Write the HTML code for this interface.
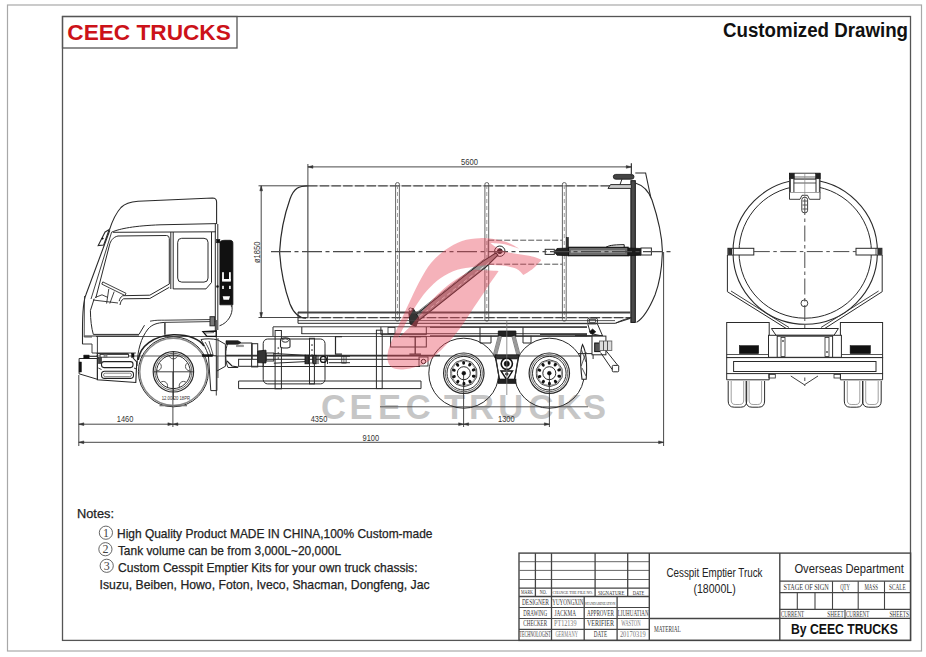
<!DOCTYPE html>
<html><head><meta charset="utf-8">
<style>
html,body{margin:0;padding:0;background:#fff;width:926px;height:657px;overflow:hidden}
svg{position:absolute;left:0;top:0;display:block}
text{font-family:"Liberation Sans",sans-serif}
.m{font-family:"Liberation Mono",monospace}
.sf{font-family:"Liberation Serif",serif}
</style></head><body>
<svg width="926" height="657" viewBox="0 0 926 657">
<rect x="7.5" y="5" width="914" height="646" rx="0" fill="none" stroke="#a8a8a8" stroke-width="1.2" />
<rect x="62.5" y="16.5" width="848" height="623.9" rx="0" fill="none" stroke="#555" stroke-width="1.3" />
<rect x="62.5" y="16.5" width="174.5" height="31.5" rx="0" fill="none" stroke="#555" stroke-width="1.3" />
<text x="67.3" y="39.9" font-size="22" fill="#cc1219" font-weight="bold" text-anchor="start" textLength="163.5" lengthAdjust="spacingAndGlyphs" >CEEC TRUCKS</text>
<text x="723" y="37.2" font-size="20" fill="#111" font-weight="bold" text-anchor="start" textLength="185" lengthAdjust="spacingAndGlyphs" >Customized Drawing</text>
<text x="77" y="517.7" font-size="12.8" fill="#222" font-weight="normal" text-anchor="start" textLength="37" lengthAdjust="spacingAndGlyphs" stroke="#222" stroke-width="0.25">Notes:</text>
<circle cx="105.9" cy="532.7" r="6.6" fill="none" stroke="#555" stroke-width="0.9" />
<text x="105.9" y="536.9000000000001" font-size="12" fill="#444" font-weight="normal" text-anchor="middle" class="sf" >1</text>
<text x="117" y="538.4000000000001" font-size="12.6" fill="#222" font-weight="normal" text-anchor="start" textLength="315.5" lengthAdjust="spacingAndGlyphs" stroke="#222" stroke-width="0.25">High Quality Product MADE IN CHINA,100% Custom-made</text>
<circle cx="105.4" cy="549.2" r="6.6" fill="none" stroke="#555" stroke-width="0.9" />
<text x="105.4" y="553.4000000000001" font-size="12" fill="#444" font-weight="normal" text-anchor="middle" class="sf" >2</text>
<text x="117.9" y="554.9000000000001" font-size="12.6" fill="#222" font-weight="normal" text-anchor="start" textLength="223.2" lengthAdjust="spacingAndGlyphs" stroke="#222" stroke-width="0.25">Tank volume can be from 3,000L~20,000L</text>
<circle cx="106.7" cy="565.8" r="6.6" fill="none" stroke="#555" stroke-width="0.9" />
<text x="106.7" y="570.0" font-size="12" fill="#444" font-weight="normal" text-anchor="middle" class="sf" >3</text>
<text x="118" y="571.5" font-size="12.6" fill="#222" font-weight="normal" text-anchor="start" textLength="299.5" lengthAdjust="spacingAndGlyphs" stroke="#222" stroke-width="0.25">Custom Cesspit Emptier Kits for your own truck chassis:</text>
<text x="99.6" y="588.9" font-size="12.6" fill="#222" font-weight="normal" text-anchor="start" textLength="330" lengthAdjust="spacingAndGlyphs" stroke="#222" stroke-width="0.25">Isuzu, Beiben, Howo, Foton, Iveco, Shacman, Dongfeng, Jac</text>
<rect x="519" y="553.1" width="391.6" height="87.3" rx="0" fill="none" stroke="#444" stroke-width="1.4" />
<line x1="519" y1="561.7" x2="649.3" y2="561.7" stroke="#666" stroke-width="1.0" />
<line x1="519" y1="570.4" x2="649.3" y2="570.4" stroke="#666" stroke-width="1.0" />
<line x1="519" y1="579.5" x2="649.3" y2="579.5" stroke="#666" stroke-width="1.0" />
<line x1="519" y1="588.1" x2="649.3" y2="588.1" stroke="#444" stroke-width="1.3" />
<line x1="519" y1="596.5" x2="649.3" y2="596.5" stroke="#444" stroke-width="1.4" />
<line x1="519" y1="607.5" x2="649.3" y2="607.5" stroke="#444" stroke-width="1.2" />
<line x1="519" y1="618.5" x2="649.3" y2="618.5" stroke="#444" stroke-width="1.2" />
<line x1="519" y1="629.4" x2="649.3" y2="629.4" stroke="#444" stroke-width="1.2" />
<line x1="535.4" y1="553.1" x2="535.4" y2="596.5" stroke="#444" stroke-width="1.3" />
<line x1="551.5" y1="553.1" x2="551.5" y2="596.5" stroke="#444" stroke-width="1.3" />
<line x1="595.1" y1="553.1" x2="595.1" y2="596.5" stroke="#444" stroke-width="1.3" />
<line x1="627.7" y1="553.1" x2="627.7" y2="596.5" stroke="#444" stroke-width="1.3" />
<line x1="551.5" y1="596.5" x2="551.5" y2="640.4" stroke="#444" stroke-width="1.3" />
<line x1="584.2" y1="596.5" x2="584.2" y2="640.4" stroke="#444" stroke-width="1.3" />
<line x1="617.1" y1="596.5" x2="617.1" y2="640.4" stroke="#444" stroke-width="1.3" />
<line x1="649.3" y1="553.1" x2="649.3" y2="640.4" stroke="#444" stroke-width="1.4" />
<line x1="649.3" y1="618.5" x2="779.8" y2="618.5" stroke="#444" stroke-width="1.3" />
<line x1="779.8" y1="553.1" x2="779.8" y2="640.4" stroke="#444" stroke-width="1.4" />
<line x1="779.8" y1="581.2" x2="910.6" y2="581.2" stroke="#444" stroke-width="1.2" />
<line x1="779.8" y1="592.6" x2="910.6" y2="592.6" stroke="#444" stroke-width="1.2" />
<line x1="779.8" y1="609.3" x2="910.6" y2="609.3" stroke="#444" stroke-width="1.2" />
<line x1="779.8" y1="618.4" x2="910.6" y2="618.4" stroke="#444" stroke-width="1.3" />
<line x1="832.5" y1="581.2" x2="832.5" y2="609.3" stroke="#444" stroke-width="1.1" />
<line x1="858.2" y1="581.2" x2="858.2" y2="609.3" stroke="#444" stroke-width="1.1" />
<line x1="884.5" y1="581.2" x2="884.5" y2="609.3" stroke="#444" stroke-width="1.1" />
<line x1="797.3" y1="592.6" x2="797.3" y2="609.3" stroke="#444" stroke-width="1.1" />
<line x1="815" y1="592.6" x2="815" y2="609.3" stroke="#444" stroke-width="1.1" />
<line x1="845" y1="609.3" x2="845" y2="618.4" stroke="#444" stroke-width="1.1" />
<text x="521" y="594.3" font-size="5.5" fill="#333" font-weight="normal" text-anchor="start" textLength="11.9" lengthAdjust="spacingAndGlyphs" class="sf" >MARK</text>
<text x="539.8" y="594.3" font-size="5.5" fill="#333" font-weight="normal" text-anchor="start" textLength="6.9" lengthAdjust="spacingAndGlyphs" class="sf" >NO.</text>
<text x="552.6" y="594.0" font-size="4.5" fill="#333" font-weight="normal" text-anchor="start" textLength="40.4" lengthAdjust="spacingAndGlyphs" class="sf" >CHANGE THE FILE NO.</text>
<text x="597.9" y="594.6" font-size="6.5" fill="#333" font-weight="normal" text-anchor="start" textLength="26.6" lengthAdjust="spacingAndGlyphs" class="sf" >SIGNATURE</text>
<text x="632.8" y="594.6" font-size="6.5" fill="#333" font-weight="normal" text-anchor="start" textLength="11.5" lengthAdjust="spacingAndGlyphs" class="sf" >DATE</text>
<text x="521.9" y="604.8" font-size="7.2" fill="#333" font-weight="normal" text-anchor="start" textLength="27.1" lengthAdjust="spacingAndGlyphs" class="sf" >DESIGNER</text>
<text x="552.2" y="604.8" font-size="7.2" fill="#333" font-weight="normal" text-anchor="start" textLength="31.2" lengthAdjust="spacingAndGlyphs" class="sf" >YUYONGXIN</text>
<text x="585" y="604.8" font-size="4.5" fill="#333" font-weight="normal" text-anchor="start" textLength="30.3" lengthAdjust="spacingAndGlyphs" class="sf" >STANDARDIZATION</text>
<text x="523.3" y="615.5" font-size="7.2" fill="#333" font-weight="normal" text-anchor="start" textLength="23.8" lengthAdjust="spacingAndGlyphs" class="sf" >DRAWING</text>
<text x="554.5" y="615.5" font-size="7.2" fill="#333" font-weight="normal" text-anchor="start" textLength="21.5" lengthAdjust="spacingAndGlyphs" class="sf" >JACKMA</text>
<text x="586.9" y="615.5" font-size="7.2" fill="#333" font-weight="normal" text-anchor="start" textLength="27.1" lengthAdjust="spacingAndGlyphs" class="sf" >APPROVER</text>
<text x="617.6" y="615.5" font-size="7.2" fill="#333" font-weight="normal" text-anchor="start" textLength="31.1" lengthAdjust="spacingAndGlyphs" class="sf" >LIUHUATIAN</text>
<text x="523.3" y="626.4" font-size="7.2" fill="#333" font-weight="normal" text-anchor="start" textLength="23.8" lengthAdjust="spacingAndGlyphs" class="sf" >CHECKER</text>
<text x="554" y="626.4" font-size="7.2" fill="#777" font-weight="normal" text-anchor="start" textLength="22.5" lengthAdjust="spacingAndGlyphs" class="sf" >PT12139</text>
<text x="586.9" y="626.4" font-size="7.2" fill="#333" font-weight="normal" text-anchor="start" textLength="27.1" lengthAdjust="spacingAndGlyphs" class="sf" >VERIFIER</text>
<text x="621.3" y="626.4" font-size="7.2" fill="#777" font-weight="normal" text-anchor="start" textLength="19.3" lengthAdjust="spacingAndGlyphs" class="sf" >WASTON</text>
<text x="519.6" y="637.0" font-size="7.2" fill="#333" font-weight="normal" text-anchor="start" textLength="31.2" lengthAdjust="spacingAndGlyphs" class="sf" >TECHNOLOGIST</text>
<text x="555.4" y="637.0" font-size="7.2" fill="#777" font-weight="normal" text-anchor="start" textLength="22.5" lengthAdjust="spacingAndGlyphs" class="sf" >GERMANY</text>
<text x="593.8" y="637.0" font-size="7.2" fill="#333" font-weight="normal" text-anchor="start" textLength="13.3" lengthAdjust="spacingAndGlyphs" class="sf" >DATE</text>
<text x="619.9" y="637.0" font-size="7.2" fill="#777" font-weight="normal" text-anchor="start" textLength="25.7" lengthAdjust="spacingAndGlyphs" class="sf" >20170319</text>
<text x="653.9" y="631.8" font-size="7.2" fill="#333" font-weight="normal" text-anchor="start" textLength="27" lengthAdjust="spacingAndGlyphs" class="sf" >MATERIAL</text>
<text x="714.5" y="577" font-size="12" fill="#222" font-weight="normal" text-anchor="middle" textLength="96" lengthAdjust="spacingAndGlyphs" >Cesspit Emptier Truck</text>
<text x="714.6" y="593.1" font-size="12" fill="#222" font-weight="normal" text-anchor="middle" textLength="42.3" lengthAdjust="spacingAndGlyphs" >(18000L)</text>
<text x="794.4" y="572.8" font-size="12.2" fill="#222" font-weight="normal" text-anchor="start" textLength="109.5" lengthAdjust="spacingAndGlyphs" >Overseas Department</text>
<text x="783.5" y="589.8" font-size="7.9" fill="#333" font-weight="normal" text-anchor="start" textLength="45.2" lengthAdjust="spacingAndGlyphs" class="sf" >STAGE OF SIGN</text>
<text x="840.2" y="589.8" font-size="7.9" fill="#333" font-weight="normal" text-anchor="start" textLength="9.7" lengthAdjust="spacingAndGlyphs" class="sf" >QTY</text>
<text x="864.5" y="589.8" font-size="7.9" fill="#333" font-weight="normal" text-anchor="start" textLength="13.4" lengthAdjust="spacingAndGlyphs" class="sf" >MASS</text>
<text x="889.1" y="589.8" font-size="7.9" fill="#333" font-weight="normal" text-anchor="start" textLength="16.5" lengthAdjust="spacingAndGlyphs" class="sf" >SCALE</text>
<text x="780.9" y="616.6" font-size="7.3" fill="#333" font-weight="normal" text-anchor="start" textLength="23.1" lengthAdjust="spacingAndGlyphs" class="sf" >CURRENT</text>
<text x="827.2" y="616.6" font-size="7.3" fill="#333" font-weight="normal" text-anchor="start" textLength="16.6" lengthAdjust="spacingAndGlyphs" class="sf" >SHEET</text>
<text x="846" y="616.6" font-size="7.3" fill="#333" font-weight="normal" text-anchor="start" textLength="23.2" lengthAdjust="spacingAndGlyphs" class="sf" >CURRENT</text>
<text x="889.4" y="616.6" font-size="7.3" fill="#333" font-weight="normal" text-anchor="start" textLength="19.6" lengthAdjust="spacingAndGlyphs" class="sf" >SHEETS</text>
<text x="791" y="634.3" font-size="14" fill="#111" font-weight="bold" text-anchor="start" textLength="107" lengthAdjust="spacingAndGlyphs" >By CEEC TRUCKS</text>
<g font-size="34.5" font-weight="bold" fill="#c6c6c6"><text x="321.1" y="418.5">C</text><text x="349.5" y="418.5">E</text><text x="378.0" y="418.5">E</text><text x="405.7" y="418.5">C</text><text x="443.9" y="418.5">T</text><text x="469.1" y="418.5">R</text><text x="498.3" y="418.5">U</text><text x="528.4" y="418.5">C</text><text x="556.6" y="418.5">K</text><text x="582.9" y="418.5">S</text></g>
<line x1="308" y1="185.8" x2="631" y2="185.8" stroke="#aaa" stroke-width="0.6" />
<line x1="308" y1="185.8" x2="631" y2="185.8" stroke="#444" stroke-width="1.35" stroke-dasharray="9.5 2.2"/>
<line x1="298" y1="317.6" x2="631" y2="317.6" stroke="#aaa" stroke-width="0.6" />
<line x1="298" y1="317.6" x2="631" y2="317.6" stroke="#444" stroke-width="1.15" stroke-dasharray="9.5 2.2"/>
<path d="M308,185.8 C299,185.8 294,188 290,199 C284,216 280.5,235 279.6,251.6 C280.5,268 284,287 290,304 C294,314 299,318 306,318.2" fill="none" stroke="#2a2a2a" stroke-width="1.2" />
<line x1="307.9" y1="185.8" x2="307.9" y2="318.2" stroke="#2a2a2a" stroke-width="1.0" />
<rect x="395.6" y="182.6" width="3.8" height="138.5" rx="1.6" fill="none" stroke="#555" stroke-width="0.9" />
<line x1="397.5" y1="185" x2="397.5" y2="319" stroke="#888" stroke-width="0.8" stroke-dasharray="4 3"/>
<rect x="484.90000000000003" y="182.6" width="3.8" height="138.5" rx="1.6" fill="none" stroke="#555" stroke-width="0.9" />
<line x1="486.8" y1="185" x2="486.8" y2="319" stroke="#888" stroke-width="0.8" stroke-dasharray="4 3"/>
<rect x="562.4" y="182.6" width="3.8" height="138.5" rx="1.6" fill="none" stroke="#555" stroke-width="0.9" />
<line x1="564.3" y1="185" x2="564.3" y2="319" stroke="#888" stroke-width="0.8" stroke-dasharray="4 3"/>
<rect x="630.9" y="180.7" width="4.4" height="141.7" rx="0" fill="#4a4a4a" stroke="#111" stroke-width="1.0" />
<path d="M635.3,183 C642,185 648,189 652,200 C658,218 662,235 662.4,251 C662,268 660,282 655,295 C650,307 644,318 636.5,322.4" fill="none" stroke="#2a2a2a" stroke-width="1.1" />
<path d="M635.3,173 L645.6,173 L650.8,197.5" fill="none" stroke="#2a2a2a" stroke-width="1.1" />
<path d="M615.9,323 C622,320 627,318.5 631.4,317.7" fill="none" stroke="#2a2a2a" stroke-width="1.0" />
<path d="M608,188.4 L610.5,184.6 L631.4,184.6 L631.4,188.4 Z" fill="#ccc" stroke="#2a2a2a" stroke-width="1.0" />
<rect x="613.3" y="174.4" width="20.7" height="4.8" rx="2.4" fill="#444" stroke="#111" stroke-width="0.8" />
<line x1="622" y1="179" x2="620" y2="184.6" stroke="#2a2a2a" stroke-width="1.0" />
<line x1="631.4" y1="164" x2="631.4" y2="174" stroke="#333" stroke-width="0.9" />
<path d="M488.2,240.2 L562,240.2 M488.2,264.2 L562,264.2" fill="none" stroke="#555" stroke-width="1.0" stroke-dasharray="6 2"/>
<line x1="488.2" y1="240.2" x2="488.2" y2="264.2" stroke="#555" stroke-width="0.9" />
<rect x="568.5" y="247.3" width="59.6" height="8.4" rx="0" fill="#6a6a6a" stroke="#111" stroke-width="1.2" />
<rect x="571" y="250.3" width="54" height="2.4" rx="0" fill="#a5a5a5" stroke="none" stroke-width="0" />
<path d="M606,247.3 C609,245.5 612,244.8 624.2,244.7 L624.2,247.3" fill="none" stroke="#111" stroke-width="1.0" />
<rect x="545.2" y="249.3" width="9.1" height="5.1" rx="0" fill="#fff" stroke="#2a2a2a" stroke-width="1.0" />
<path d="M554.3,251.8 L557,248.5 L568.5,248 L568.5,255.7 L557,255.2 Z" fill="#222" stroke="#111" stroke-width="0.8" />
<rect x="566.5" y="237.6" width="1.8" height="10" rx="0" fill="#333" stroke="#111" stroke-width="0.6" />
<path d="M628.1,248 L641,248.5 L641,255.2 L628.1,255.7 Z" fill="#1a1a1a" stroke="#111" stroke-width="0.8" />
<rect x="641" y="248" width="10.4" height="7" rx="0" fill="#fff" stroke="#2a2a2a" stroke-width="1.0" />
<circle cx="499.8" cy="251.2" r="5.2" fill="none" stroke="#2a2a2a" stroke-width="1.0" />
<circle cx="499.8" cy="251.2" r="2.4" fill="#111" stroke="#111" stroke-width="1.0" />
<path d="M496.1,252.8 L497.9,255.2 L486.4,266.6 L415,323.5 L411,318.5 L482.4,261.6 Z" fill="#9a9090" stroke="#222" stroke-width="1.1" />
<path d="M489,262.5 L414.5,320.5" fill="none" stroke="#ddd" stroke-width="1.0" stroke-dasharray="4 3"/>
<path d="M484,259.3 L412,316.3" fill="none" stroke="#444" stroke-width="0.7" />
<path d="M408.7,312 L413,308 L418.8,318 L416,326.7 L410,324 Z" fill="#333" stroke="#111" stroke-width="0.8" />
<circle cx="410.5" cy="309.5" r="1.6" fill="#fff" stroke="#333" stroke-width="0.8" />
<line x1="298" y1="312.4" x2="630.5" y2="312.4" stroke="#444" stroke-width="2.0" />
<line x1="298" y1="320.6" x2="615" y2="320.6" stroke="#444" stroke-width="0.9" />
<line x1="298" y1="312.2" x2="298" y2="323.3" stroke="#2a2a2a" stroke-width="1.0" />
<line x1="298" y1="323.3" x2="615" y2="323.3" stroke="#2a2a2a" stroke-width="1.0" />
<path d="M615,323.3 L630,318.5" fill="none" stroke="#2a2a2a" stroke-width="1.0" />
<line x1="273" y1="326.8" x2="587" y2="326.8" stroke="#3a3a3a" stroke-width="1.0" />
<line x1="301.5" y1="333.7" x2="587" y2="333.7" stroke="#3a3a3a" stroke-width="1.0" />
<line x1="96" y1="336.5" x2="600" y2="336.5" stroke="#555" stroke-width="1.0" />
<line x1="96" y1="356" x2="580" y2="356" stroke="#555" stroke-width="1.2" />
<line x1="307.9" y1="164" x2="307.9" y2="186" stroke="#333" stroke-width="0.9" />
<line x1="631.3" y1="163" x2="631.3" y2="176" stroke="#333" stroke-width="0.9" />
<line x1="307.9" y1="166.9" x2="631.3" y2="166.9" stroke="#333" stroke-width="0.9" />
<path d="M307.9,166.9 l5,-1.4 l0,2.8 z" fill="#333" stroke="#333" stroke-width="0.5" />
<path d="M631.3,166.9 l-5,-1.4 l0,2.8 z" fill="#333" stroke="#333" stroke-width="0.5" />
<text x="469.4" y="164.9" font-size="8.2" fill="#333" font-weight="normal" text-anchor="middle" textLength="17" lengthAdjust="spacingAndGlyphs" >5600</text>
<line x1="258.5" y1="185.8" x2="307" y2="185.8" stroke="#333" stroke-width="0.9" />
<line x1="258.5" y1="317.5" x2="305" y2="317.5" stroke="#333" stroke-width="0.9" />
<line x1="261.2" y1="185.8" x2="261.2" y2="317.5" stroke="#333" stroke-width="0.9" />
<path d="M261.2,185.8 l-1.4,5 l2.8,0 z" fill="#333" stroke="#333" stroke-width="0.5" />
<path d="M261.2,317.5 l-1.4,-5 l2.8,0 z" fill="#333" stroke="#333" stroke-width="0.5" />
<text x="0" y="0" font-size="9" fill="#333" font-weight="normal" text-anchor="middle" textLength="21.5" lengthAdjust="spacingAndGlyphs" transform="translate(259.5,252.3) rotate(-90)">ø1850</text>
<line x1="271" y1="251.6" x2="671.8" y2="251.6" stroke="#4a4a4a" stroke-width="1.15" stroke-dasharray="20 3.5 4 3.5"/>
<line x1="78.8" y1="375" x2="78.8" y2="446" stroke="#333" stroke-width="0.9" />
<line x1="172.9" y1="372" x2="172.9" y2="427" stroke="#333" stroke-width="0.9" />
<line x1="463.6" y1="374" x2="463.6" y2="427" stroke="#333" stroke-width="0.9" />
<line x1="549.4" y1="374" x2="549.4" y2="427" stroke="#333" stroke-width="0.9" />
<line x1="663.6" y1="252" x2="663.6" y2="446" stroke="#333" stroke-width="0.9" />
<line x1="78.8" y1="424.2" x2="549.4" y2="424.2" stroke="#333" stroke-width="0.9" />
<line x1="78.8" y1="442.3" x2="663.6" y2="442.3" stroke="#333" stroke-width="0.9" />
<path d="M78.8,424.2 l5,-1.4 l0,2.8 z" fill="#333" stroke="#333" stroke-width="0.5" />
<path d="M172.9,424.2 l-5,-1.4 l0,2.8 z" fill="#333" stroke="#333" stroke-width="0.5" />
<path d="M172.9,424.2 l5,-1.4 l0,2.8 z" fill="#333" stroke="#333" stroke-width="0.5" />
<path d="M463.6,424.2 l-5,-1.4 l0,2.8 z" fill="#333" stroke="#333" stroke-width="0.5" />
<path d="M463.6,424.2 l5,-1.4 l0,2.8 z" fill="#333" stroke="#333" stroke-width="0.5" />
<path d="M549.4,424.2 l-5,-1.4 l0,2.8 z" fill="#333" stroke="#333" stroke-width="0.5" />
<path d="M78.8,442.3 l5,-1.4 l0,2.8 z" fill="#333" stroke="#333" stroke-width="0.5" />
<path d="M663.6,442.3 l-5,-1.4 l0,2.8 z" fill="#333" stroke="#333" stroke-width="0.5" />
<text x="125.1" y="422.2" font-size="8.2" fill="#333" font-weight="normal" text-anchor="middle" textLength="16.6" lengthAdjust="spacingAndGlyphs" >1460</text>
<text x="319" y="422.4" font-size="8.2" fill="#333" font-weight="normal" text-anchor="middle" textLength="16.6" lengthAdjust="spacingAndGlyphs" >4350</text>
<text x="506.3" y="422.4" font-size="8.2" fill="#333" font-weight="normal" text-anchor="middle" textLength="16.6" lengthAdjust="spacingAndGlyphs" >1300</text>
<text x="370.8" y="440.8" font-size="8.2" fill="#333" font-weight="normal" text-anchor="middle" textLength="16.6" lengthAdjust="spacingAndGlyphs" >9100</text>
<line x1="380" y1="406.8" x2="588" y2="406.8" stroke="#555" stroke-width="1.0" />
<circle cx="173.4" cy="371.8" r="35" fill="none" stroke="#2a2a2a" stroke-width="1.0" />
<circle cx="173.4" cy="371.8" r="33.6" fill="none" stroke="#888" stroke-width="1.4" />
<circle cx="173.4" cy="371.8" r="20.2" fill="none" stroke="#2a2a2a" stroke-width="1.2" />
<circle cx="173.4" cy="371.8" r="18.5" fill="none" stroke="#666" stroke-width="1.0" />
<circle cx="173.4" cy="371.8" r="16.8" fill="none" stroke="#2a2a2a" stroke-width="1.0" />
<clipPath id="fw"><circle cx="173.4" cy="371.8" r="16.6"/></clipPath><g clip-path="url(#fw)">
<circle cx="173.4" cy="354.6" r="4.3" fill="none" stroke="#555" stroke-width="1.0" />
<circle cx="189.76" cy="366.48" r="4.3" fill="none" stroke="#555" stroke-width="1.0" />
<circle cx="183.51" cy="385.72" r="4.3" fill="none" stroke="#555" stroke-width="1.0" />
<circle cx="163.29" cy="385.72" r="4.3" fill="none" stroke="#555" stroke-width="1.0" />
<circle cx="157.04" cy="366.48" r="4.3" fill="none" stroke="#555" stroke-width="1.0" />
</g>
<line x1="153.9" y1="371.8" x2="192.9" y2="371.8" stroke="#2a2a2a" stroke-width="0.9" />
<line x1="173.4" y1="351.8" x2="173.4" y2="399.8" stroke="#2a2a2a" stroke-width="0.9" />
<circle cx="463.8" cy="373.2" r="35" fill="none" stroke="#2a2a2a" stroke-width="1.0" />
<circle cx="463.8" cy="373.2" r="20.2" fill="none" stroke="#2a2a2a" stroke-width="1.2" />
<circle cx="463.8" cy="373.2" r="18.5" fill="none" stroke="#666" stroke-width="1.0" />
<circle cx="463.8" cy="373.2" r="16.8" fill="none" stroke="#2a2a2a" stroke-width="1.0" />
<path d="M476.8,373.0 Q477.7,377.5 474.4,380.7 Q472.5,384.9 468.0,385.5 Q464.0,387.8 460.0,385.6 Q455.4,385.1 453.4,381.0 Q450.0,377.9 450.8,373.4 Q449.9,368.9 453.2,365.7 Q455.1,361.5 459.6,360.9 Q463.6,358.6 467.6,360.8 Q472.2,361.3 474.2,365.4 Q477.6,368.5 476.8,373.0 Z" fill="none" stroke="#333" stroke-width="0.9" />
<circle cx="463.8" cy="373.2" r="12.2" fill="none" stroke="#666" stroke-width="0.7" />
<ellipse cx="473.74" cy="376.27" rx="1.9" ry="1.5" transform="rotate(17 473.74 376.27)" fill="#111"/>
<ellipse cx="470.03" cy="381.53" rx="1.9" ry="1.5" transform="rotate(53 470.03 381.53)" fill="#111"/>
<ellipse cx="463.95" cy="383.60" rx="1.9" ry="1.5" transform="rotate(89 463.95 383.60)" fill="#111"/>
<ellipse cx="457.81" cy="381.70" rx="1.9" ry="1.5" transform="rotate(125 457.81 381.70)" fill="#111"/>
<ellipse cx="453.96" cy="376.55" rx="1.9" ry="1.5" transform="rotate(161 453.96 376.55)" fill="#111"/>
<ellipse cx="453.86" cy="370.13" rx="1.9" ry="1.5" transform="rotate(197 453.86 370.13)" fill="#111"/>
<ellipse cx="457.57" cy="364.87" rx="1.9" ry="1.5" transform="rotate(233 457.57 364.87)" fill="#111"/>
<ellipse cx="463.65" cy="362.80" rx="1.9" ry="1.5" transform="rotate(269 463.65 362.80)" fill="#111"/>
<ellipse cx="469.79" cy="364.70" rx="1.9" ry="1.5" transform="rotate(305 469.79 364.70)" fill="#111"/>
<ellipse cx="473.64" cy="369.85" rx="1.9" ry="1.5" transform="rotate(341 473.64 369.85)" fill="#111"/>
<circle cx="463.8" cy="373.2" r="6.5" fill="none" stroke="#2a2a2a" stroke-width="1.0" />
<circle cx="463.8" cy="373.2" r="1.9" fill="#111" stroke="#111" stroke-width="0.5" />
<circle cx="549.3" cy="373.2" r="35" fill="none" stroke="#2a2a2a" stroke-width="1.0" />
<circle cx="549.3" cy="373.2" r="20.2" fill="none" stroke="#2a2a2a" stroke-width="1.2" />
<circle cx="549.3" cy="373.2" r="18.5" fill="none" stroke="#666" stroke-width="1.0" />
<circle cx="549.3" cy="373.2" r="16.8" fill="none" stroke="#2a2a2a" stroke-width="1.0" />
<path d="M562.3,373.0 Q563.2,377.5 559.9,380.7 Q558.0,384.9 553.5,385.5 Q549.5,387.8 545.5,385.6 Q540.9,385.1 538.9,381.0 Q535.5,377.9 536.3,373.4 Q535.4,368.9 538.7,365.7 Q540.6,361.5 545.1,360.9 Q549.1,358.6 553.1,360.8 Q557.7,361.3 559.7,365.4 Q563.1,368.5 562.3,373.0 Z" fill="none" stroke="#333" stroke-width="0.9" />
<circle cx="549.3" cy="373.2" r="12.2" fill="none" stroke="#666" stroke-width="0.7" />
<ellipse cx="559.24" cy="376.27" rx="1.9" ry="1.5" transform="rotate(17 559.24 376.27)" fill="#111"/>
<ellipse cx="555.53" cy="381.53" rx="1.9" ry="1.5" transform="rotate(53 555.53 381.53)" fill="#111"/>
<ellipse cx="549.45" cy="383.60" rx="1.9" ry="1.5" transform="rotate(89 549.45 383.60)" fill="#111"/>
<ellipse cx="543.31" cy="381.70" rx="1.9" ry="1.5" transform="rotate(125 543.31 381.70)" fill="#111"/>
<ellipse cx="539.46" cy="376.55" rx="1.9" ry="1.5" transform="rotate(161 539.46 376.55)" fill="#111"/>
<ellipse cx="539.36" cy="370.13" rx="1.9" ry="1.5" transform="rotate(197 539.36 370.13)" fill="#111"/>
<ellipse cx="543.07" cy="364.87" rx="1.9" ry="1.5" transform="rotate(233 543.07 364.87)" fill="#111"/>
<ellipse cx="549.15" cy="362.80" rx="1.9" ry="1.5" transform="rotate(269 549.15 362.80)" fill="#111"/>
<ellipse cx="555.29" cy="364.70" rx="1.9" ry="1.5" transform="rotate(305 555.29 364.70)" fill="#111"/>
<ellipse cx="559.14" cy="369.85" rx="1.9" ry="1.5" transform="rotate(341 559.14 369.85)" fill="#111"/>
<circle cx="549.3" cy="373.2" r="6.5" fill="none" stroke="#2a2a2a" stroke-width="1.0" />
<circle cx="549.3" cy="373.2" r="1.9" fill="#111" stroke="#111" stroke-width="0.5" />
<path d="M109.5,229.7 C112,222 116,213 121,207.5 C125,203.5 130,202 138,201.3 L212.5,198 Q216.6,198 216.6,202 L216.6,224" fill="none" stroke="#2a2a2a" stroke-width="1.1" />
<path d="M111.6,232.2 C120,228.5 135,225.8 160,224.8 L216.6,223.6" fill="none" stroke="#2a2a2a" stroke-width="1.0" />
<line x1="113" y1="232.3" x2="215.8" y2="231.8" stroke="#2a2a2a" stroke-width="1.0" />
<line x1="215.3" y1="224" x2="215.3" y2="333" stroke="#2a2a2a" stroke-width="1.0" />
<line x1="217.8" y1="224" x2="217.8" y2="330" stroke="#2a2a2a" stroke-width="1.0" />
<path d="M109.8,230.3 L86.1,294.2 C83.5,300 82.5,310 82.5,330 L82.5,344" fill="none" stroke="#2a2a2a" stroke-width="1.1" />
<path d="M111.6,232.2 L91,299" fill="none" stroke="#2a2a2a" stroke-width="0.9" />
<path d="M84.5,296 L84.2,337 L92,337" fill="none" stroke="#2a2a2a" stroke-width="0.8" />
<path d="M105.1,232 L109.2,229.5 L103.7,245 L98.2,245.5 Z" fill="#fff" stroke="#2a2a2a" stroke-width="1.1" />
<circle cx="102.6" cy="238.5" r="0.8" fill="#111" stroke="#111" stroke-width="0.5" />
<path d="M166.5,235.5 L118,236 C113,237 110.5,241 109.5,245 L95.8,298 M166.5,235.5 Q169.3,235.5 169.3,238.5 L169.3,284 L149.8,295.2 L122.8,295.7 C120.5,297 119.5,299 119.2,301.2" fill="none" stroke="#2a2a2a" stroke-width="1.0" />
<path d="M169.3,287.3 L149.8,298.5 L123.5,298.8 C121.5,300 120.5,302 120,305" fill="none" stroke="#2a2a2a" stroke-width="1.0" />
<path d="M102.8,281.9 L126,293.3 L125,295.5 L101.8,284.1 Z" fill="#fff" stroke="#2a2a2a" stroke-width="0.9" />
<path d="M114.2,291.6 L109.8,303.5 M108.8,288.9 L106.6,303.5 M95,297.5 L102,294.8 L108,297.5 M93,300 L118,303" fill="none" stroke="#2a2a2a" stroke-width="0.9" />
<line x1="170.8" y1="232" x2="170.8" y2="289" stroke="#2a2a2a" stroke-width="1.0" />
<line x1="173.2" y1="232" x2="173.2" y2="289" stroke="#2a2a2a" stroke-width="1.0" />
<rect x="177.7" y="238.3" width="30.3" height="43.8" rx="4" fill="none" stroke="#2a2a2a" stroke-width="1.0" />
<path d="M173.2,288.9 L206,288.9 L211.5,282.5 L211.5,232" fill="none" stroke="#2a2a2a" stroke-width="1.0" />
<path d="M94.2,298.7 L90.4,310.6 C90.5,320 91.5,328 93.3,334.4 L139,334.4 L144.5,325.2" fill="none" stroke="#2a2a2a" stroke-width="1.0" />
<path d="M164.8,322.4 L215.3,321.5 M164.8,320.2 L215.3,319.5 M150,321.2 C156,320 160,320.2 164.8,320.2" fill="none" stroke="#2a2a2a" stroke-width="0.9" />
<line x1="164.9" y1="322.4" x2="164.9" y2="334.8" stroke="#2a2a2a" stroke-width="1.4" />
<path d="M97.4,336 L97.4,353 L135.8,353" fill="none" stroke="#2a2a2a" stroke-width="0.9" />
<path d="M97.4,353.8 L97.4,379.8 L135.8,382.5 L136.7,362 L133,358" fill="none" stroke="#222" stroke-width="1.1" />
<line x1="96.5" y1="353.6" x2="128.5" y2="353.6" stroke="#2a2a2a" stroke-width="1.0" />
<rect x="100.1" y="354.4" width="28.4" height="2.8" rx="0" fill="#fff" stroke="#2a2a2a" stroke-width="0.9" />
<rect x="104" y="354.4" width="3" height="2.8" rx="0" fill="#999" stroke="#555" stroke-width="0.6" />
<rect x="131.6" y="353.3" width="2.4" height="4.1" rx="0" fill="#111" stroke="#111" stroke-width="0.5" />
<rect x="101.5" y="361.6" width="31.5" height="6" rx="2.5" fill="none" stroke="#222" stroke-width="1.1" />
<rect x="101.5" y="371.2" width="32" height="7.2" rx="3.2" fill="none" stroke="#222" stroke-width="1.1" />
<rect x="103.5" y="373.2" width="28" height="3.4" rx="1.7" fill="none" stroke="#666" stroke-width="0.8" />
<path d="M98.3,358 L101,361 M98.3,368 L101.5,369.5 M134,368 L136.5,369" fill="none" stroke="#222" stroke-width="0.9" />
<rect x="98.5" y="357.5" width="3" height="6" rx="0" fill="#444" stroke="#222" stroke-width="0.6" />
<path d="M79.1,358.5 L97.4,358.5 L97.4,379.3 L79.1,373.8 Z" fill="none" stroke="#2a2a2a" stroke-width="1.0" />
<rect x="79.1" y="362" width="2.3" height="10" rx="0" fill="#111" stroke="#111" stroke-width="0.5" />
<path d="M83.7,355.1 L89.2,355.1 L89.2,358.3 L83.7,358.3 Z" fill="#111" stroke="#111" stroke-width="0.5" />
<path d="M89,356.3 L97,356.3" fill="none" stroke="#333" stroke-width="1.2" />
<line x1="84.5" y1="336" x2="139" y2="336" stroke="#2a2a2a" stroke-width="1.0" />
<path d="M82.3,344 L92,344 L92,353 L97.4,353" fill="none" stroke="#2a2a2a" stroke-width="0.9" />
<path d="M219.9,243 C219.9,241 222,240.3 225,240.3 L230,240.3 C232.3,240.3 232.9,241.5 232.9,243.5 L232.9,304.8 L219.9,304.8 Z" fill="#111" stroke="#111" stroke-width="0.8" />
<rect x="216.5" y="239.4" width="3.4" height="3.4" rx="0" fill="#111" stroke="#111" stroke-width="0.5" />
<rect x="222.1" y="272.2" width="1.8" height="8.3" rx="0" fill="#fff" stroke="none" stroke-width="0" />
<rect x="229" y="272.2" width="1.8" height="8.3" rx="0" fill="#fff" stroke="none" stroke-width="0" />
<rect x="222.1" y="279" width="8.7" height="2.6" rx="0" fill="#fff" stroke="none" stroke-width="0" />
<rect x="222.1" y="285.8" width="1.8" height="3.2" rx="0" fill="#eee" stroke="none" stroke-width="0" />
<rect x="229" y="285.8" width="1.8" height="3.2" rx="0" fill="#eee" stroke="none" stroke-width="0" />
<path d="M222.7,296.2 L230,296.2 L229,299.8 L223.5,299.8 Z" fill="#fff" stroke="none" stroke-width="0" />
<circle cx="217.5" cy="286.5" r="1.1" fill="#111" stroke="#111" stroke-width="0.5" />
<circle cx="231.7" cy="306" r="0.7" fill="#111" stroke="#111" stroke-width="0.4" />
<path d="M232,306.6 C233,314 228,323 219.5,325.8" fill="none" stroke="#2a2a2a" stroke-width="1.0" />
<rect x="210" y="316.7" width="4.6" height="9.1" rx="0" fill="#777" stroke="#2a2a2a" stroke-width="1.0" />
<rect x="263.2" y="339" width="61.8" height="44.9" rx="4.5" fill="none" stroke="#2a2a2a" stroke-width="1.0" />
<rect x="275.1" y="330.5" width="6.3" height="58.3" rx="0" fill="none" stroke="#2a2a2a" stroke-width="1.0" />
<rect x="309.5" y="338.3" width="4.9" height="45.6" rx="0" fill="none" stroke="#2a2a2a" stroke-width="1.0" />
<circle cx="312" cy="345" r="0.6" fill="#2a2a2a" stroke="#2a2a2a" stroke-width="0.4" />
<circle cx="278.3" cy="348" r="0.6" fill="#2a2a2a" stroke="#2a2a2a" stroke-width="0.4" />
<circle cx="312" cy="350" r="0.6" fill="#2a2a2a" stroke="#2a2a2a" stroke-width="0.4" />
<circle cx="278.3" cy="353" r="0.6" fill="#2a2a2a" stroke="#2a2a2a" stroke-width="0.4" />
<circle cx="312" cy="355" r="0.6" fill="#2a2a2a" stroke="#2a2a2a" stroke-width="0.4" />
<circle cx="278.3" cy="358" r="0.6" fill="#2a2a2a" stroke="#2a2a2a" stroke-width="0.4" />
<path d="M280.5,346.5 L280.5,340.5 C280.5,337 290,337 290,340.5 L290,346.5 C290,348.5 280.5,348.5 280.5,346.5 Z" fill="#fff" stroke="#2a2a2a" stroke-width="1.1" />
<ellipse cx="285.25" cy="340.5" rx="3.2" ry="1.7" fill="none" stroke="#2a2a2a" stroke-width="1"/>
<path d="M238.6,381 L421,381 L421,388.6 L238.6,388.6 Z" fill="none" stroke="#2a2a2a" stroke-width="1.0" />
<rect x="238.6" y="359.3" width="24.6" height="7" rx="0" fill="none" stroke="#2a2a2a" stroke-width="1.0" />
<line x1="226" y1="355.5" x2="440" y2="355.5" stroke="#333" stroke-width="1.6" />
<line x1="262" y1="359.3" x2="420" y2="359.3" stroke="#2a2a2a" stroke-width="1.0" />
<line x1="262" y1="366.5" x2="420" y2="366.5" stroke="#2a2a2a" stroke-width="1.0" />
<path d="M257.6,351 L266,350.2 L266,363 L257.6,362.6 Z" fill="#333" stroke="#111" stroke-width="0.8" />
<rect x="266.2" y="353" width="7.6" height="8" rx="0" fill="none" stroke="#2a2a2a" stroke-width="1.0" />
<path d="M273.8,353.5 L306,355.3 L306,361.6 L273.8,363.2" fill="none" stroke="#2a2a2a" stroke-width="1.0" />
<rect x="305" y="355.1" width="4" height="8.7" rx="0" fill="#333" stroke="#111" stroke-width="0.8" />
<rect x="309.5" y="356" width="3" height="7" rx="0" fill="none" stroke="#2a2a2a" stroke-width="0.8" />
<rect x="313" y="355.3" width="3.2" height="8.5" rx="0" fill="#444" stroke="#111" stroke-width="0.8" />
<circle cx="323.4" cy="359.4" r="3" fill="none" stroke="#111" stroke-width="1.2" />
<line x1="318" y1="355.5" x2="318" y2="364" stroke="#2a2a2a" stroke-width="1.0" />
<line x1="327.5" y1="355.5" x2="327.5" y2="364" stroke="#2a2a2a" stroke-width="1.0" />
<path d="M328.8,356.2 L350,356.2 M328.8,362.7 L350,362.7" fill="none" stroke="#2a2a2a" stroke-width="1.0" />
<rect x="341.8" y="355.8" width="4.3" height="7.3" rx="0" fill="none" stroke="#2a2a2a" stroke-width="0.8" />
<line x1="343.9" y1="355.8" x2="343.9" y2="363.1" stroke="#2a2a2a" stroke-width="0.7" />
<rect x="376.4" y="330.2" width="5.8" height="58.4" rx="0" fill="none" stroke="#2a2a2a" stroke-width="1.0" />
<path d="M342,336.7 L335.5,336.7 L335.5,354.2 L342,354.2" fill="none" stroke="#2a2a2a" stroke-width="1.2" />
<path d="M380.9,327 L380.9,334.7 L426.3,334.7 L426.3,327" fill="none" stroke="#2a2a2a" stroke-width="1.0" />
<rect x="390.6" y="336.7" width="35.7" height="10.3" rx="0" fill="none" stroke="#2a2a2a" stroke-width="1.0" />
<path d="M409.4,336.7 L421,336.7 M415.2,336.7 L415.2,354.2 M409.4,354.2 L421,354.2" fill="none" stroke="#2a2a2a" stroke-width="1.3" />
<rect x="388" y="327.5" width="7" height="6" rx="0" fill="none" stroke="#2a2a2a" stroke-width="0.8" />
<circle cx="423.5" cy="361.5" r="2.2" fill="none" stroke="#111" stroke-width="1.0" />
<rect x="419" y="357" width="9" height="9" rx="0" fill="none" stroke="#2a2a2a" stroke-width="0.9" />
<line x1="273" y1="327" x2="273" y2="336" stroke="#2a2a2a" stroke-width="1.0" />
<line x1="301.8" y1="327" x2="301.8" y2="334" stroke="#2a2a2a" stroke-width="1.0" />
<path d="M202.9,331.6 L216.3,331 L216.3,336.4 L207,336.4 Z" fill="#fff" stroke="#111" stroke-width="1.3" />
<path d="M205,333 L214,332.6" fill="none" stroke="#444" stroke-width="0.8" />
<path d="M201,339.5 C206,338.5 212,338.5 218,340 L225.4,344.3 L225.4,366.3 L216.9,371 L213,372 C211,360 206,348 201,339.5 Z" fill="none" stroke="#2a2a2a" stroke-width="1.0" />
<path d="M205,342 C209,348 212,356 213.5,368 M209,341 L214,358" fill="none" stroke="#2a2a2a" stroke-width="0.8" />
<path d="M208.4,355.3 L216.9,356 L216.9,390.6 L210.8,390.6 Z" fill="#fff" stroke="#2a2a2a" stroke-width="1.0" />
<rect x="202.3" y="354.7" width="10.4" height="1.9" rx="0" fill="#111" stroke="#111" stroke-width="0.5" />
<line x1="216.3" y1="320" x2="216.3" y2="395.5" stroke="#2a2a2a" stroke-width="0.9" />
<line x1="218" y1="338" x2="218" y2="378" stroke="#2a2a2a" stroke-width="0.8" />
<path d="M228,343 L252.2,343 L252.2,359 M238.2,367.5 L228,367.5 C225,362 225,348 228,343" fill="none" stroke="#2a2a2a" stroke-width="1.0" />
<path d="M226,340.7 L238,340.7 L241,342.5 L238,344.3 L226,344.3 Z" fill="#222" stroke="#111" stroke-width="0.6" />
<rect x="236.4" y="345" width="7.3" height="1.8" rx="0" fill="#999" stroke="#888" stroke-width="0.5" />
<rect x="251.6" y="343.7" width="6.1" height="23.2" rx="0" fill="none" stroke="#2a2a2a" stroke-width="1.0" />
<path d="M227,361 L232,366 L238,367" fill="none" stroke="#222" stroke-width="1.2" />
<line x1="430" y1="327.3" x2="587" y2="327.3" stroke="#2a2a2a" stroke-width="1.0" />
<line x1="430" y1="335.8" x2="587" y2="335.8" stroke="#2a2a2a" stroke-width="1.0" />
<line x1="440" y1="323.7" x2="587" y2="323.7" stroke="#2a2a2a" stroke-width="1.0" />
<path d="M480,327.3 L480,343 L491,343 L491,335.8" fill="none" stroke="#2a2a2a" stroke-width="1.0" />
<path d="M531,335.8 L531,343 L523,343 L523,327.3" fill="none" stroke="#2a2a2a" stroke-width="1.0" />
<path d="M498.3,331 L515.9,331 L515.9,335.8 L498.3,335.8 Z" fill="#222" stroke="#111" stroke-width="0.8" />
<path d="M500,336 L495,355 M513.5,336 L518.5,355" fill="none" stroke="#999" stroke-width="2.6" />
<path d="M498.3,336 L493.3,355 M501.7,336 L496.7,355 M511.8,336 L516.8,355 M515.2,336 L520.2,355" fill="none" stroke="#555" stroke-width="0.7" />
<path d="M495,355 L519,355 L514,382 L500,382 Z" fill="#fff" stroke="#111" stroke-width="1.2" />
<path d="M495,355 L519,355 L517.5,359 L496.5,359 Z" fill="#333" stroke="#111" stroke-width="0.5" />
<circle cx="506.8" cy="363.8" r="5.6" fill="#fff" stroke="#111" stroke-width="1.6" />
<circle cx="506.8" cy="363.8" r="2.7" fill="#111" stroke="#111" stroke-width="0.5" />
<path d="M501,371 L512.5,371 L506.8,380 Z" fill="#fff" stroke="#111" stroke-width="1.4" />
<circle cx="506.8" cy="374" r="1.4" fill="#333" stroke="#111" stroke-width="0.5" />
<rect x="498" y="379" width="18" height="4.5" rx="0" fill="#222" stroke="#111" stroke-width="0.6" />
<path d="M496,358 L499,378 M518,358 L515,378" fill="none" stroke="#333" stroke-width="1.0" />
<line x1="506.8" y1="320" x2="506.8" y2="395" stroke="#777" stroke-width="0.8" />
<rect x="587.8" y="318" width="9.6" height="5.9" rx="1.5" fill="none" stroke="#2a2a2a" stroke-width="1.0" />
<rect x="589.6" y="319.4" width="6" height="3" rx="0" fill="none" stroke="#2a2a2a" stroke-width="0.7" />
<path d="M587.8,323.9 L590.5,333.5 L602.7,336.1 L597.4,323.9" fill="none" stroke="#2a2a2a" stroke-width="1.0" />
<path d="M592.6,329 L595.8,331.8 L592.6,334.6 L589.4,331.8 Z" fill="#111" stroke="#111" stroke-width="0.6" />
<line x1="575" y1="335.6" x2="602.7" y2="335.6" stroke="#2a2a2a" stroke-width="1.0" />
<rect x="592" y="336.1" width="13.9" height="18.7" rx="0" fill="#fff" stroke="#2a2a2a" stroke-width="1.0" />
<rect x="594.7" y="343" width="5.3" height="8.6" rx="0" fill="#555" stroke="#111" stroke-width="1.0" />
<rect x="599.5" y="341" width="12.3" height="9.5" rx="0" fill="#ddd" stroke="#666" stroke-width="0.9" />
<line x1="603.5" y1="341" x2="603.5" y2="350.5" stroke="#444" stroke-width="0.9" />
<line x1="607.5" y1="341" x2="607.5" y2="350.5" stroke="#444" stroke-width="0.9" />
<path d="M600.6,352.6 L612.3,369.7 M605.9,350.5 L618.7,366.5" fill="none" stroke="#2a2a2a" stroke-width="1.0" />
<rect x="612.3" y="365.4" width="6.4" height="6.4" rx="1" fill="#fff" stroke="#2a2a2a" stroke-width="1.0" />
<line x1="593.1" y1="354.8" x2="593.1" y2="359" stroke="#2a2a2a" stroke-width="1.0" />
<path d="M582.5,344.6 C580.2,350 580,362 582,379.3 L586.2,379.3 C587.2,365 586.5,352 582.5,344.6 Z" fill="#fff" stroke="#222" stroke-width="1.1" />
<path d="M581.5,350 L586,362 M586.2,352 L581.2,366 M582,368 L586,376" fill="none" stroke="#333" stroke-width="0.8" />
<line x1="578" y1="353.6" x2="592" y2="353.6" stroke="#2a2a2a" stroke-width="1.0" />
<line x1="540" y1="334.4" x2="587" y2="334.4" stroke="#2a2a2a" stroke-width="1.0" />
<path d="M727.4,255 L727.4,291.7 L787.4,329.2 M882.2,255 L882.2,291.7 L823.6,329.2" fill="none" stroke="#2a2a2a" stroke-width="1.0" />
<path d="M731,291 L789,327.5 M878.6,291 L821,327.5" fill="none" stroke="#2a2a2a" stroke-width="0.9" />
<circle cx="805.2" cy="252" r="72.2" fill="#fff" stroke="#2a2a2a" stroke-width="1.1" />
<circle cx="805.2" cy="252" r="66.2" fill="none" stroke="#2a2a2a" stroke-width="1.0" />
<rect x="789.5" y="173.2" width="30.5" height="19.4" rx="0" fill="#fff" stroke="#2a2a2a" stroke-width="0.9" />
<rect x="794" y="176.3" width="21.6" height="2.5" rx="0" fill="#bbb" stroke="#999" stroke-width="0.5" />
<rect x="789.7" y="173.4" width="4.6" height="5.4" rx="0" fill="#222" stroke="#111" stroke-width="0.5" />
<rect x="815.6" y="173.4" width="4.6" height="5.4" rx="0" fill="#222" stroke="#111" stroke-width="0.5" />
<line x1="790.5" y1="178.8" x2="790.5" y2="192.6" stroke="#2a2a2a" stroke-width="0.8" />
<line x1="793.9" y1="178.8" x2="793.9" y2="192.6" stroke="#2a2a2a" stroke-width="1.0" />
<line x1="816" y1="178.8" x2="816" y2="192.6" stroke="#2a2a2a" stroke-width="1.0" />
<line x1="819.4" y1="178.8" x2="819.4" y2="192.6" stroke="#2a2a2a" stroke-width="0.8" />
<line x1="793.9" y1="179.2" x2="816" y2="179.2" stroke="#2a2a2a" stroke-width="0.9" />
<line x1="793.9" y1="183" x2="816" y2="183" stroke="#2a2a2a" stroke-width="0.8" />
<path d="M789.5,192.6 L789.5,199.3 L800,199.3 L802,195.3 L807.5,195.3 L809.5,199.3 L820,199.3 L820,192.6" fill="#fff" stroke="#2a2a2a" stroke-width="0.9" />
<line x1="804.8" y1="174" x2="804.8" y2="199" stroke="#888" stroke-width="0.7" />
<rect x="801.8" y="197.3" width="5.8" height="15.5" rx="2.5" fill="none" stroke="#2a2a2a" stroke-width="0.9" />
<line x1="802.5" y1="201" x2="807" y2="201" stroke="#2a2a2a" stroke-width="0.8" />
<line x1="802.5" y1="205" x2="807" y2="205" stroke="#2a2a2a" stroke-width="0.8" />
<line x1="802.5" y1="209" x2="807" y2="209" stroke="#2a2a2a" stroke-width="0.8" />
<rect x="727.9" y="248.3" width="25.9" height="6.7" rx="0" fill="#fff" stroke="#2a2a2a" stroke-width="1.0" />
<rect x="856" y="248.3" width="25.9" height="6.7" rx="0" fill="#fff" stroke="#2a2a2a" stroke-width="1.0" />
<rect x="728.5" y="248.8" width="3.5" height="5.7" rx="0" fill="#333" stroke="#111" stroke-width="0.5" />
<rect x="877.8" y="248.8" width="3.5" height="5.7" rx="0" fill="#333" stroke="#111" stroke-width="0.5" />
<line x1="733.5" y1="248.3" x2="733.5" y2="255" stroke="#2a2a2a" stroke-width="0.8" />
<line x1="876" y1="248.3" x2="876" y2="255" stroke="#2a2a2a" stroke-width="0.8" />
<line x1="804.8" y1="199" x2="804.8" y2="386" stroke="#4a4a4a" stroke-width="1.0" stroke-dasharray="16 3.5 3.5 3.5"/>
<line x1="753.8" y1="251.6" x2="856" y2="251.6" stroke="#4a4a4a" stroke-width="1.0" stroke-dasharray="16 3.5 3.5 3.5"/>
<circle cx="804.4" cy="303.3" r="3.4" fill="none" stroke="#2a2a2a" stroke-width="0.9" />
<rect x="726.7" y="322.5" width="42.5" height="35.1" rx="0" fill="#fff" stroke="#2a2a2a" stroke-width="1.0" />
<rect x="840.4" y="322.5" width="42.2" height="35.1" rx="0" fill="#fff" stroke="#2a2a2a" stroke-width="1.0" />
<rect x="739.3" y="345.6" width="19.4" height="8.1" rx="0" fill="#111" stroke="#111" stroke-width="0.5" />
<rect x="850.1" y="345.6" width="20.4" height="8.1" rx="0" fill="#111" stroke="#111" stroke-width="0.5" />
<line x1="726.7" y1="354.5" x2="768.5" y2="354.5" stroke="#2a2a2a" stroke-width="0.8" />
<line x1="841.4" y1="354.5" x2="882.6" y2="354.5" stroke="#2a2a2a" stroke-width="0.8" />
<path d="M771.4,328.5 L838.4,328.5 L834,335.3 L776,335.3 Z" fill="#fff" stroke="#2a2a2a" stroke-width="1.0" />
<rect x="768.5" y="335.3" width="72.9" height="22" rx="0" fill="#fff" stroke="#2a2a2a" stroke-width="1.0" />
<rect x="777.2" y="336.2" width="55.4" height="21.4" rx="0" fill="none" stroke="#2a2a2a" stroke-width="1.0" />
<rect x="781" y="337.5" width="4" height="19" rx="0" fill="none" stroke="#2a2a2a" stroke-width="0.8" />
<rect x="825" y="337.5" width="4" height="19" rx="0" fill="none" stroke="#2a2a2a" stroke-width="0.8" />
<circle cx="783" cy="341" r="0.7" fill="#111" stroke="#111" stroke-width="0.3" />
<circle cx="827" cy="352" r="0.7" fill="#111" stroke="#111" stroke-width="0.3" />
<rect x="726.7" y="357.6" width="155.9" height="16" rx="0" fill="#fff" stroke="#2a2a2a" stroke-width="1.0" />
<rect x="733.6" y="361.5" width="142.4" height="10" rx="0" fill="none" stroke="#2a2a2a" stroke-width="1.0" />
<path d="M726.7,373.6 L726.7,379.8 L769.2,379.8 L769.2,373.6 M840.4,373.6 L840.4,379.8 L882.6,379.8 L882.6,373.6" fill="none" stroke="#2a2a2a" stroke-width="1.0" />
<path d="M790.8,376 L804.4,384.8 L818,376" fill="none" stroke="#2a2a2a" stroke-width="0.9" />
<rect x="768.8" y="374.5" width="6.5" height="3.5" rx="0" fill="none" stroke="#2a2a2a" stroke-width="0.8" />
<rect x="834" y="374.5" width="6.5" height="3.5" rx="0" fill="none" stroke="#2a2a2a" stroke-width="0.8" />
<path d="M728.2,381 L728.2,401 Q728.2,407.2 734.2,407.2 L740.7,407.2 Q746.7,407.2 746.7,401 L746.7,381" fill="none" stroke="#2a2a2a" stroke-width="1.0" />
<path d="M731.2,381 L731.2,400 Q731.2,404.5 735.2,404.5 L739.7,404.5 Q743.7,404.5 743.7,400 L743.7,381" fill="none" stroke="#777" stroke-width="0.7" />
<path d="M746.1,381 L746.1,401 Q746.1,407.2 752.1,407.2 L758.6,407.2 Q764.6,407.2 764.6,401 L764.6,381" fill="none" stroke="#2a2a2a" stroke-width="1.0" />
<path d="M749.1,381 L749.1,400 Q749.1,404.5 753.1,404.5 L757.6,404.5 Q761.6,404.5 761.6,400 L761.6,381" fill="none" stroke="#777" stroke-width="0.7" />
<path d="M844.3,381 L844.3,401 Q844.3,407.2 850.3,407.2 L856.8,407.2 Q862.8,407.2 862.8,401 L862.8,381" fill="none" stroke="#2a2a2a" stroke-width="1.0" />
<path d="M847.3,381 L847.3,400 Q847.3,404.5 851.3,404.5 L855.8,404.5 Q859.8,404.5 859.8,400 L859.8,381" fill="none" stroke="#777" stroke-width="0.7" />
<path d="M862.7,381 L862.7,401 Q862.7,407.2 868.7,407.2 L875.2,407.2 Q881.2,407.2 881.2,401 L881.2,381" fill="none" stroke="#2a2a2a" stroke-width="1.0" />
<path d="M865.7,381 L865.7,400 Q865.7,404.5 869.7,404.5 L874.2,404.5 Q878.2,404.5 878.2,400 L878.2,381" fill="none" stroke="#777" stroke-width="0.7" />
<g fill="#e8475a" fill-opacity="0.42" stroke="none">
<path d="M541.0,259.5 C539.2,258.9 534.4,256.9 530.5,256.0 C526.6,255.1 521.7,254.8 517.5,254.0 C513.3,253.2 509.1,252.7 505.5,251.5 C501.9,250.3 498.5,248.4 496.0,247.0 C493.5,245.6 491.4,243.7 490.5,243.0 C492.6,243.2 499.3,243.5 502.8,244.0 C506.3,244.5 508.8,245.4 511.5,246.2 C514.2,247.0 517.8,248.2 519.0,248.6 C517.8,247.9 514.4,245.7 512.0,244.5 C509.6,243.3 507.9,242.5 504.6,241.6 C501.3,240.7 496.2,239.4 492.0,238.8 C487.8,238.2 484.4,237.9 479.4,238.3 C474.4,238.7 467.6,239.1 462.0,241.0 C456.4,242.9 450.7,246.1 445.5,249.8 C440.3,253.5 435.1,258.1 431.0,263.0 C426.9,267.9 424.0,273.4 420.7,279.3 C417.4,285.2 414.4,291.7 411.3,298.2 C408.2,304.7 404.8,311.9 401.9,318.2 C398.9,324.5 395.9,330.6 393.6,335.9 C391.4,341.2 389.4,346.0 388.4,350.1 C387.4,354.2 387.0,357.8 387.7,360.7 C388.4,363.6 389.8,366.4 392.4,367.8 C394.9,369.2 398.9,369.6 403.0,369.4 C407.1,369.2 412.9,368.1 417.2,366.6 C421.5,365.2 424.3,364.2 429.0,360.7 C433.7,357.2 440.4,350.7 445.5,345.4 C450.6,340.1 455.0,335.1 459.7,328.8 C464.4,322.5 469.1,314.7 473.8,307.6 C478.5,300.5 483.9,292.5 488.0,286.4 C492.1,280.3 496.8,273.6 498.6,271.0 C494.5,270.8 478.0,270.0 473.8,269.8 C471.9,270.8 466.4,273.2 462.0,275.7 C457.7,278.3 452.6,281.4 447.9,285.2 C443.2,288.9 438.1,293.6 433.7,298.2 C429.4,302.7 425.9,307.6 421.9,312.3 C418.0,317.0 414.1,322.2 410.1,326.5 C406.2,330.8 400.3,336.3 398.3,338.3 C399.5,335.9 402.6,329.2 405.4,324.1 C408.2,319.0 411.3,313.1 414.8,307.6 C418.4,302.1 422.3,296.0 426.6,291.1 C431.0,286.2 435.7,281.6 440.8,278.1 C445.9,274.6 451.8,271.7 457.3,269.8 C462.8,268.0 468.7,267.8 473.8,267.0 C479.0,266.2 483.3,265.4 488.0,265.1 C492.7,264.9 497.4,265.0 502.2,265.6 C506.9,266.2 512.8,267.1 516.3,268.7 C519.9,270.2 522.2,274.0 523.4,275.0 C525.0,274.0 529.9,271.1 532.9,268.7 C535.8,266.2 539.7,261.8 541.1,260.4 Z"/>
</g>
<text x="175.9" y="400.4" font-size="4.8" fill="#333" font-weight="normal" text-anchor="middle" textLength="28.4" lengthAdjust="spacingAndGlyphs" >12.00-20 18PR</text>
<path d="M138.2,360 C140,346 153,336 173.3,334.8 C190,334.5 200,340 204,346" fill="none" stroke="#222" stroke-width="1.6" />
<path d="M137,366 C137.5,350 141,338 148,329 C152,324.5 157,322.8 164.8,322.4" fill="none" stroke="#2a2a2a" stroke-width="1.0" />
<line x1="159.5" y1="405.6" x2="187" y2="405.6" stroke="#777" stroke-width="1.4" /></svg>
</body></html>
